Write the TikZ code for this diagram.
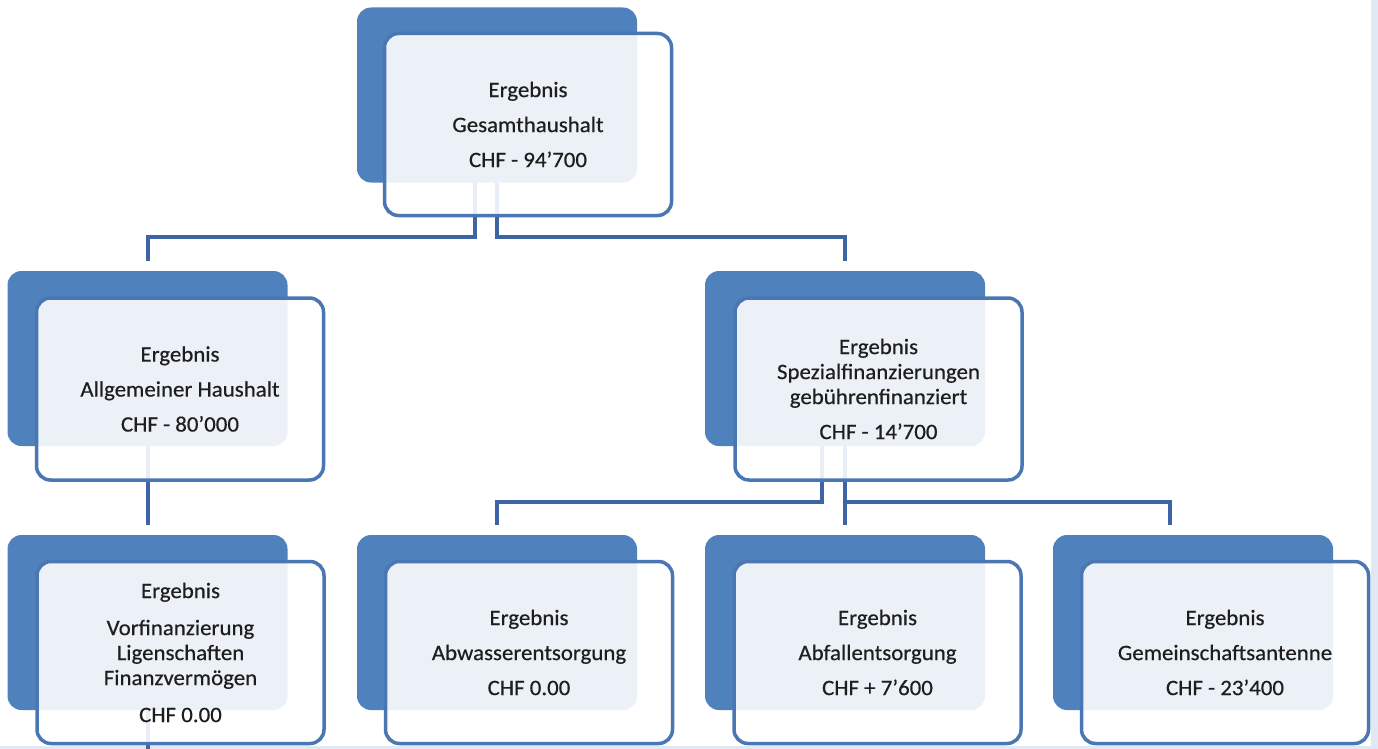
\documentclass[tikz,border=0pt]{standalone}
\usepackage{fontspec}
\setmainfont{Carlito}[FakeStretch=1.04,FakeBold=0.5]
\definecolor{boxblue}{HTML}{4F81BD}
\definecolor{edgeblue}{HTML}{4A77B4}
\definecolor{lineblue}{HTML}{3E64A4}
\definecolor{stripblue}{HTML}{DFE8F3}
\definecolor{textgrey}{HTML}{1E1E1E}
\pgfdeclarelayer{bg}
\pgfsetlayers{bg,main}
\begin{document}
\begin{tikzpicture}[x=1pt,y=-1pt,
  backbox/.style={rectangle, rounded corners=14pt, fill=boxblue, draw=none,
    minimum width=280pt, minimum height=175pt, inner sep=0pt},
  frontbox/.style={rectangle, rounded corners=14pt, draw=edgeblue, line width=3.5pt,
    fill=white, fill opacity=0.89, text opacity=1, text=textgrey,
    minimum width=287pt, minimum height=182pt, align=center, inner sep=0pt,
    font=\fontsize{22}{25}\selectfont},
  link/.style={draw=lineblue, line width=4pt}]
\useasboundingbox (0,0) rectangle (1378,749);

% boxes
\node[backbox] (b1) at (497,95) {};
\node[frontbox] (f1) at (528,124.5) {Ergebnis\\[10pt]Gesamthaushalt\\[10pt]CHF - 94'700};

\node[backbox] (b2) at (147.5,358.5) {};
\node[frontbox] (f2) at (180,389) {Ergebnis\\[10pt]Allgemeiner Haushalt\\[10pt]CHF - 80'000};

\node[backbox] (b3) at (845,358.5) {};
\node[frontbox] (f3) at (878.5,389) {Ergebnis\\Spezialfinanzierungen\\gebührenfinanziert\\[10pt]CHF - 14'700};

\node[backbox] (b4) at (147.5,622.5) {};
\node[frontbox] (f4) at (180.5,652.5) {Ergebnis\\[12pt]Vorfinanzierung\\Ligenschaften\\Finanzvermögen\\[12pt]CHF 0.00};

\node[backbox] (b5) at (497,622.5) {};
\node[frontbox] (f5) at (529,652.5) {Ergebnis\\[10pt]Abwasserentsorgung\\[10pt]CHF 0.00};

\node[backbox] (b6) at (845,622.5) {};
\node[frontbox] (f6) at (877.5,652.5) {Ergebnis\\[10pt]Abfallentsorgung\\[10pt]CHF + 7'600};

\node[backbox] (b7) at (1193,622.5) {};
\node[frontbox] (f7) at (1225,652.5) {Ergebnis\\[10pt]Gemeinschaftsantenne\\[10pt]CHF - 23'400};

\coordinate (down4) at (147.5,749);

\begin{pgfonlayer}{bg}
  \fill[white] (0,0) rectangle (1378,749);
  \fill[stripblue] (1371,0) rectangle (1378,749);
  \fill[stripblue] (0,746) rectangle (1378,749);
  % top level
  \draw[link] ([xshift=-22pt]b1.center) -- ++(0,142) -| ([yshift=10pt]b2.north);
  \draw[link] (b1.center) -- ++(0,142) -| ([yshift=10pt]b3.north);
  % left column
  \draw[link] (b2.center) -- ([yshift=10pt]b4.north);
  \draw[link] (b4.center) -- (down4);
  % special financing
  \draw[link] ([xshift=-23pt]b3.center) -- ++(0,143.5) -| ([yshift=10pt]b5.north);
  \draw[link] (b3.center) -- ([yshift=10pt]b6.north);
  \draw[link] ([yshift=-143.5pt]b3.center) -| ([xshift=-23pt,yshift=10pt]b7.north);
\end{pgfonlayer}
\end{tikzpicture}
\end{document}
